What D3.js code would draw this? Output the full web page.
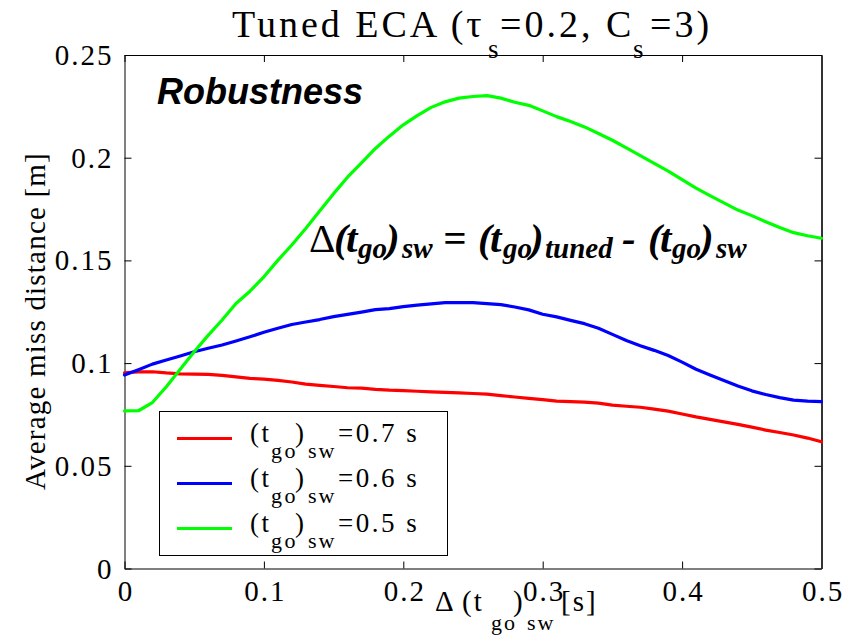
<!DOCTYPE html>
<html>
<head>
<meta charset="utf-8">
<script src="https://cdn.jsdelivr.net/npm/d3@7"></script>
<style>
  body { margin: 0; background: #fff; }
  svg { display: block; }
</style>
</head>
<body>
<svg id="chart" width="854" height="637"></svg>
<script>
// Switching-time offset Δ(t_go)_sw [s]
const dtSw = [0.00, 0.01, 0.02, 0.03, 0.04, 0.05, 0.06, 0.07, 0.08, 0.09,
              0.10, 0.11, 0.12, 0.13, 0.14, 0.15, 0.16, 0.17, 0.18, 0.19,
              0.20, 0.21, 0.22, 0.23, 0.24, 0.25, 0.26, 0.27, 0.28, 0.29,
              0.30, 0.31, 0.32, 0.33, 0.34, 0.35, 0.36, 0.37, 0.38, 0.39,
              0.40, 0.41, 0.42, 0.43, 0.44, 0.45, 0.46, 0.47, 0.48, 0.49, 0.50];

// Average miss distance [m] for (t_go)_sw = 0.7 s
const miss07 = [0.0953, 0.0957, 0.0958, 0.0952, 0.0948, 0.0946, 0.0945, 0.0940, 0.0933, 0.0926,
                0.0922, 0.0916, 0.0908, 0.0898, 0.0892, 0.0886, 0.0880, 0.0878, 0.0872, 0.0868,
                0.0866, 0.0863, 0.0860, 0.0857, 0.0855, 0.0852, 0.0849, 0.0842, 0.0835, 0.0828,
                0.0822, 0.0815, 0.0812, 0.0810, 0.0805, 0.0795, 0.0790, 0.0785, 0.0776, 0.0766,
                0.0752, 0.0738, 0.0726, 0.0714, 0.0702, 0.0688, 0.0674, 0.0662, 0.0650, 0.0635, 0.0617];

// Average miss distance [m] for (t_go)_sw = 0.6 s
const miss06 = [0.0942, 0.0968, 0.0995, 0.1015, 0.1035, 0.1055, 0.1072, 0.1088, 0.1108, 0.1128,
                0.1150, 0.1170, 0.1188, 0.1200, 0.1212, 0.1226, 0.1237, 0.1248, 0.1260, 0.1265,
                0.1275, 0.1282, 0.1288, 0.1294, 0.1294, 0.1294, 0.1290, 0.1285, 0.1273, 0.1259,
                0.1238, 0.1225, 0.1208, 0.1192, 0.1170, 0.1140, 0.1110, 0.1085, 0.1062, 0.1037,
                0.1005, 0.0970, 0.0942, 0.0915, 0.0888, 0.0865, 0.0847, 0.0832, 0.0820, 0.0815, 0.0812];

// Average miss distance [m] for (t_go)_sw = 0.5 s
const miss05 = [0.0767, 0.0768, 0.0808, 0.0885, 0.0970, 0.1055, 0.1135, 0.1210, 0.1290, 0.1350,
                0.1420, 0.1500, 0.1575, 0.1655, 0.1740, 0.1825, 0.1905, 0.1975, 0.2045, 0.2105,
                0.2160, 0.2205, 0.2245, 0.2272, 0.2290, 0.2298, 0.2302, 0.2290, 0.2270, 0.2255,
                0.2228, 0.2200, 0.2176, 0.2150, 0.2118, 0.2085, 0.2048, 0.2010, 0.1972, 0.1935,
                0.1893, 0.1852, 0.1815, 0.1780, 0.1745, 0.1718, 0.1688, 0.1660, 0.1635, 0.1620, 0.1608];

const seriesNames = ["0.7", "0.6", "0.5"];
const seriesColors = ["#ff0000", "#0000ff", "#00ff00"];
const xTicks = [0, 0.1, 0.2, 0.3, 0.4, 0.5];
const xTickLabels = ["0", "0.1", "0.2", "0.3", "0.4", "0.5"];
const yTicks = [0, 0.05, 0.1, 0.15, 0.2, 0.25];
const yTickLabels = ["0", "0.05", "0.1", "0.15", "0.2", "0.25"];

const series = [miss07, miss06, miss05];

const serif = "'Liberation Serif', 'Times New Roman', serif";
const sans = "'Liberation Sans', Arial, sans-serif";

const svg = d3.select("#chart");
const plot = { left: 124.5, right: 821.5, top: 55, bottom: 568.5 };

const x = d3.scaleLinear().domain([0, 0.5]).range([plot.left, plot.right]);
const y = d3.scaleLinear().domain([0, 0.25]).range([plot.bottom, plot.top]);

// Frame with inward ticks on all four sides
const tickLen = 7;
function styleAxis(g) {
  g.selectAll(".domain").attr("stroke", "#000").attr("stroke-width", 1);
  g.selectAll(".tick line").attr("stroke", "#000").attr("stroke-width", 1);
}
svg.append("g").attr("transform", `translate(0,${plot.bottom})`)
  .call(d3.axisBottom(x).tickValues(xTicks).tickSizeInner(-tickLen).tickSizeOuter(0)
    .tickFormat((d, i) => xTickLabels[i]))
  .call(styleAxis)
  .call(g => g.selectAll(".tick text").attr("y", 32).attr("dy", 0)
    .attr("font-family", serif).attr("font-size", 29).attr("letter-spacing", 2)
    .attr("dx", 1).attr("fill", "#000"));
svg.append("g").attr("transform", `translate(0,${plot.top})`)
  .call(d3.axisTop(x).tickValues(xTicks).tickSizeInner(-tickLen).tickSizeOuter(0).tickFormat(""))
  .call(styleAxis);
svg.append("g").attr("transform", `translate(${plot.left},0)`)
  .call(d3.axisLeft(y).tickValues(yTicks).tickSizeInner(-tickLen).tickSizeOuter(0)
    .tickFormat((d, i) => yTickLabels[i]))
  .call(styleAxis)
  .call(g => g.selectAll(".tick text").attr("x", -11).attr("dy", 9.5)
    .attr("font-family", serif).attr("font-size", 29).attr("letter-spacing", 2)
    .attr("fill", "#000"));
svg.append("g").attr("transform", `translate(${plot.right},0)`)
  .call(d3.axisRight(y).tickValues(yTicks).tickSizeInner(-tickLen).tickSizeOuter(0).tickFormat(""))
  .call(styleAxis)
  .call(g => g.select(".domain").attr("stroke", "#333").attr("stroke-width", 2));

// Curves
const line = d3.line().x((d, i) => x(dtSw[i])).y(d => y(d));
svg.append("g").selectAll("path").data(series).join("path")
  .attr("d", d => line(d))
  .attr("fill", "none")
  .attr("stroke", (d, i) => seriesColors[i])
  .attr("stroke-width", 3.2)
  .attr("stroke-linejoin", "round")
  .attr("stroke-linecap", "round");

// Rich text helper: pieces with absolute x and baseline y
function rich(g, pieces, base) {
  const t = g.append("text").attr("fill", "#000");
  pieces.forEach(p => {
    t.append("tspan")
      .attr("x", p.x).attr("y", p.y)
      .attr("font-family", p.family || base.family)
      .attr("font-size", p.size || base.size)
      .attr("font-weight", p.weight || base.weight || "normal")
      .attr("font-style", p.style || base.style || "normal")
      .attr("letter-spacing", p.ls != null ? p.ls : (base.ls || 0))
      .text(p.t);
  });
  return t;
}

// Title
rich(svg, [
  { t: "Tuned ECA (τ", x: 232, y: 37 },
  { t: "s", x: 488, y: 57.5, size: 27, ls: 0 },
  { t: "=0.2, C", x: 500, y: 37 },
  { t: "s", x: 633, y: 57.5, size: 27, ls: 0 },
  { t: "=3)", x: 650, y: 37 }
], { family: serif, size: 38, ls: 3 });

// Y axis label
svg.append("text")
  .attr("transform", "translate(45,321) rotate(-90)")
  .attr("text-anchor", "middle")
  .attr("font-family", serif).attr("font-size", 29).attr("letter-spacing", 1.2)
  .attr("fill", "#000")
  .text("Average miss distance [m]");

// X axis label
rich(svg, [
  { t: "Δ", x: 435, y: 611 },
  { t: "(t", x: 462, y: 611 },
  { t: "go", x: 491, y: 630, size: 22 },
  { t: ")", x: 513, y: 611 },
  { t: "sw", x: 527, y: 630, size: 22 },
  { t: "[s]", x: 561, y: 611 }
], { family: serif, size: 29, ls: 2 });

// Annotation: Robustness
svg.append("text")
  .attr("x", 157).attr("y", 104)
  .attr("font-family", sans).attr("font-size", 36)
  .attr("font-weight", "bold").attr("font-style", "italic")
  .attr("fill", "#000")
  .text("Robustness");

// Annotation: switching-time offset definition
const fb = { family: serif, size: 41, weight: "bold", style: "italic" };
const sb = 258, mb = 252;
rich(svg, [
  { t: "Δ", x: 309, y: mb, weight: "normal", style: "normal" },
  { t: "(", x: 334, y: mb },
  { t: "t", x: 346, y: mb },
  { t: "go", x: 358, y: sb, size: 29 },
  { t: ")", x: 386, y: mb },
  { t: "sw", x: 402, y: sb, size: 29 },
  { t: "=", x: 443, y: mb },
  { t: "(", x: 478, y: mb },
  { t: "t", x: 490, y: mb },
  { t: "go", x: 503, y: sb, size: 29 },
  { t: ")", x: 530, y: mb },
  { t: "tuned", x: 545, y: sb, size: 29 },
  { t: "-", x: 622, y: mb },
  { t: "(", x: 648, y: mb },
  { t: "t", x: 660, y: mb },
  { t: "go", x: 672, y: sb, size: 29 },
  { t: ")", x: 700, y: mb },
  { t: "sw", x: 716, y: sb, size: 29 }
], fb);

// Legend
const legend = svg.append("g");
legend.append("rect")
  .attr("x", 159.5).attr("y", 411.5).attr("width", 288).attr("height", 144)
  .attr("fill", "#fff").attr("stroke", "#000").attr("stroke-width", 1);
seriesNames.forEach((name, i) => {
  const ly = 438.5 + i * 45;
  legend.append("line")
    .attr("x1", 177).attr("x2", 232).attr("y1", ly).attr("y2", ly)
    .attr("stroke", seriesColors[i]).attr("stroke-width", 3.2);
  const b = ly + 3, s = ly + 19.5;
  rich(legend, [
    { t: "(t", x: 250, y: b },
    { t: "go", x: 271, y: s, size: 22 },
    { t: ")", x: 295, y: b },
    { t: "sw", x: 308, y: s, size: 22, ls: 2 },
    { t: `=${name} s`, x: 338, y: b }
  ], { family: serif, size: 27, ls: 2.5 });
});
</script>
</body>
</html>
